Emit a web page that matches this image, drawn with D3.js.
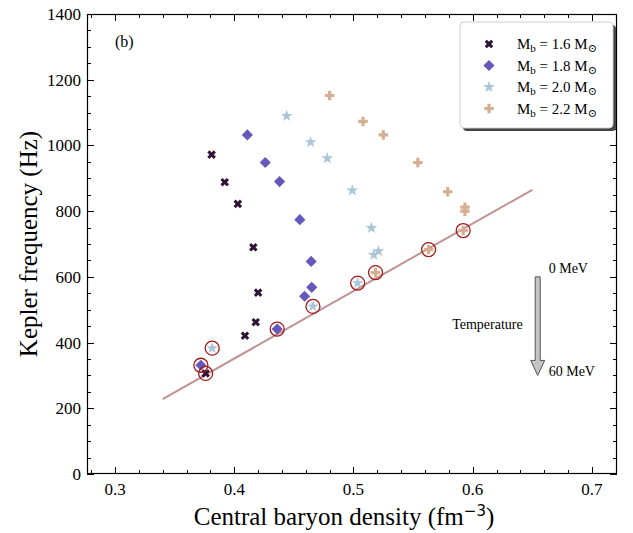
<!DOCTYPE html>
<html>
<head>
<meta charset="utf-8">
<script src="https://cdn.jsdelivr.net/npm/d3@7"></script>
<style>
  body { margin: 0; background: #fff; }
  svg { display: block; font-family: "Liberation Serif", "DejaVu Serif", serif; }
</style>
</head>
<body>
<svg width="633" height="533"></svg>
<script>
// values (central density in fm^-3, Kepler frequency in Hz)
const seriesLabels = ['1.6', '1.8', '2.0', '2.2'];
const density16 = [0.381, 0.392, 0.403, 0.416, 0.420, 0.418, 0.409, 0.376];
const freq16 = [972, 888, 822, 690, 552, 462, 421, 306];
const density18 = [0.411, 0.426, 0.438, 0.455, 0.4645, 0.465, 0.459, 0.436, 0.372];
const freq18 = [1032, 948, 890, 774, 647, 568, 541, 441, 331];
const density20 = [0.444, 0.464, 0.478, 0.499, 0.515, 0.521, 0.517, 0.5035, 0.466, 0.3815];
const freq20 = [1090, 1010, 961, 863, 749, 678, 667, 581, 510, 383];
const density22 = [0.480, 0.508, 0.525, 0.554, 0.579, 0.5935, 0.5935, 0.592, 0.563, 0.5185];
const freq22 = [1152, 1073, 1032, 948, 859, 812, 800, 741, 683, 613];
// indices of the points that carry a red circle
const circled16 = [7];
const circled18 = [7, 8];
const circled20 = [7, 8, 9];
const circled22 = [7, 8, 9];
// straight fit line through the circled points
const fitDensity = [0.34, 0.65];
const fitFreq = [228, 865];
const xTicks = [0.3, 0.4, 0.5, 0.6, 0.7];
const yTicks = [0, 200, 400, 600, 800, 1000, 1200, 1400];
const arrowFreq = [600, 300];
const arrowDensity = 0.6545;

(function (d3) {
  'use strict';
  const svg = d3.select('svg');
  const margin = { top: 14, right: 16, bottom: 59, left: 87 };
  const width = +svg.attr('width');
  const height = +svg.attr('height');
  const innerWidth = width - margin.left - margin.right;
  const innerHeight = height - margin.top - margin.bottom;

  const xScale = d3.scaleLinear().domain([0.2765, 0.7210]).range([0, innerWidth]);
  const yScale = d3.scaleLinear().domain([0, 1400]).range([innerHeight, 0]);

  const g = svg.append('g').attr('transform', `translate(${margin.left},${margin.top})`);

  const series = [
    { x: density16, y: freq16, circ: circled16, color: '#2f1436', shape: d3.symbolCross, size: 46, rot: 45 },
    { x: density18, y: freq18, circ: circled18, color: '#6557bb', shape: d3.symbolSquare, size: 62, rot: 45 },
    { x: density20, y: freq20, circ: circled20, color: '#a9c5d6', shape: d3.symbolStar, size: 44, rot: 0 },
    { x: density22, y: freq22, circ: circled22, color: '#d6ae92', shape: d3.symbolCross, size: 50, rot: 0 }
  ];

  // ticks, inward, on all four sides
  const minorX = d3.range(0.28, 0.7201, 0.02);
  const minorY = d3.range(0, 1401, 50);
  const tickG = g.append('g').attr('stroke', '#000').attr('stroke-width', 1);
  minorX.forEach(v => {
    const major = xTicks.some(t => Math.abs(t - v) < 1e-6);
    const len = major ? 7 : 4;
    const px = Math.round(xScale(v)) + 0.5;
    tickG.append('line').attr('x1', px).attr('x2', px).attr('y1', innerHeight).attr('y2', innerHeight - len);
    tickG.append('line').attr('x1', px).attr('x2', px).attr('y1', 0).attr('y2', len);
  });
  minorY.forEach(v => {
    const major = v % 200 === 0;
    const len = major ? 7 : 4;
    const py = Math.round(yScale(v)) + 0.5;
    tickG.append('line').attr('x1', 0).attr('x2', len).attr('y1', py).attr('y2', py);
    tickG.append('line').attr('x1', innerWidth).attr('x2', innerWidth - len).attr('y1', py).attr('y2', py);
  });

  g.selectAll('.xlab').data(xTicks).enter().append('text')
    .attr('x', d => xScale(d)).attr('y', innerHeight + 21)
    .attr('text-anchor', 'middle').attr('font-size', 17)
    .text(d => d3.format('.1f')(d));
  g.selectAll('.ylab').data(yTicks).enter().append('text')
    .attr('x', -6).attr('y', d => yScale(d)).attr('dy', '0.35em')
    .attr('text-anchor', 'end').attr('font-size', 17)
    .text(d => d);

  // fit line
  g.append('line')
    .attr('x1', xScale(fitDensity[0])).attr('y1', yScale(fitFreq[0]))
    .attr('x2', xScale(fitDensity[1])).attr('y2', yScale(fitFreq[1]))
    .attr('stroke', '#c29292').attr('stroke-width', 2);

  // markers
  series.forEach(s => {
    const pts = s.x.map((v, i) => ({ x: v, y: s.y[i] }));
    g.append('g').selectAll('path').data(pts).enter().append('path')
      .attr('d', d3.symbol().type(s.shape).size(s.size))
      .attr('transform', d => `translate(${xScale(d.x)},${yScale(d.y)}) rotate(${s.rot})`)
      .attr('fill', s.color);
  });

  // red circles round the lowest points
  series.forEach(s => {
    g.append('g').selectAll('circle').data(s.circ).enter().append('circle')
      .attr('cx', i => xScale(s.x[i])).attr('cy', i => yScale(s.y[i]))
      .attr('r', 7)
      .attr('fill', 'none').attr('stroke', '#a01818').attr('stroke-width', 1.3);
  });

  // frame
  g.append('rect').attr('x', 0.5).attr('y', 0.5)
    .attr('width', innerWidth - 1).attr('height', innerHeight - 1)
    .attr('fill', 'none').attr('stroke', '#000').attr('stroke-width', 1.2);

  g.append('text').attr('x', 28).attr('y', 33).attr('font-size', 16).text('(b)');

  // temperature arrow
  const ax = xScale(arrowDensity);
  const y0 = yScale(arrowFreq[0]);
  const y1 = yScale(arrowFreq[1]);
  const arrow = d3.path();
  arrow.moveTo(ax - 2.5, y0);
  arrow.lineTo(ax + 2.5, y0);
  arrow.lineTo(ax + 2.5, y1 - 15);
  arrow.lineTo(ax + 7, y1 - 15);
  arrow.lineTo(ax, y1);
  arrow.lineTo(ax - 7, y1 - 15);
  arrow.lineTo(ax - 2.5, y1 - 15);
  arrow.closePath();
  g.append('path').attr('d', arrow.toString())
    .attr('fill', '#c4c4c4').attr('stroke', '#444').attr('stroke-width', 0.9);
  g.append('text').attr('x', ax + 11).attr('y', y0 - 4).attr('font-size', 14).text('0 MeV');
  g.append('text').attr('x', ax + 11).attr('y', y1 + 1).attr('font-size', 14).text('60 MeV');
  g.append('text').attr('x', ax - 15).attr('y', (y0 + y1) / 2 + 3)
    .attr('text-anchor', 'end').attr('font-size', 14).text('Temperature');

  // legend
  const lg = g.append('g').attr('transform', `translate(${innerWidth - 157},8)`);
  lg.append('rect').attr('x', 3).attr('y', 3).attr('width', 153).attr('height', 106)
    .attr('rx', 4).attr('fill', '#444');
  lg.append('rect').attr('x', 0).attr('y', 0).attr('width', 153).attr('height', 106)
    .attr('rx', 4).attr('fill', '#fff').attr('stroke', '#d0d0d0').attr('stroke-width', 1);
  series.forEach((s, i) => {
    const row = lg.append('g').attr('transform', `translate(0,${22 + i * 21.5})`);
    row.append('path')
      .attr('d', d3.symbol().type(s.shape).size(s.size))
      .attr('transform', `translate(29,0) rotate(${s.rot})`)
      .attr('fill', s.color);
    const t = row.append('text').attr('x', 57).attr('y', 5).attr('font-size', 15);
    t.append('tspan').text('M');
    t.append('tspan').attr('font-size', 11).attr('dy', 3).text('b');
    t.append('tspan').attr('dy', -3).text(` = ${seriesLabels[i]} M`);
    t.append('tspan').attr('font-size', 11).attr('dy', 3).text('\u2299');
  });

  // axis titles
  svg.append('text')
    .attr('transform', `translate(${margin.left - 50},${margin.top + innerHeight / 2}) rotate(-90)`)
    .attr('text-anchor', 'middle').attr('font-size', 25)
    .text('Kepler frequency (Hz)');
  const xt = svg.append('text')
    .attr('x', margin.left + innerWidth / 2 - 8).attr('y', height - 8)
    .attr('text-anchor', 'middle').attr('font-size', 25);
  xt.append('tspan').text('Central baryon density (fm');
  xt.append('tspan').attr('font-size', 15).attr('dy', -9).attr('font-family', 'DejaVu Sans').text('\u22123');
  xt.append('tspan').attr('dy', 9).text(')');
}(d3));
</script>
</body>
</html>
